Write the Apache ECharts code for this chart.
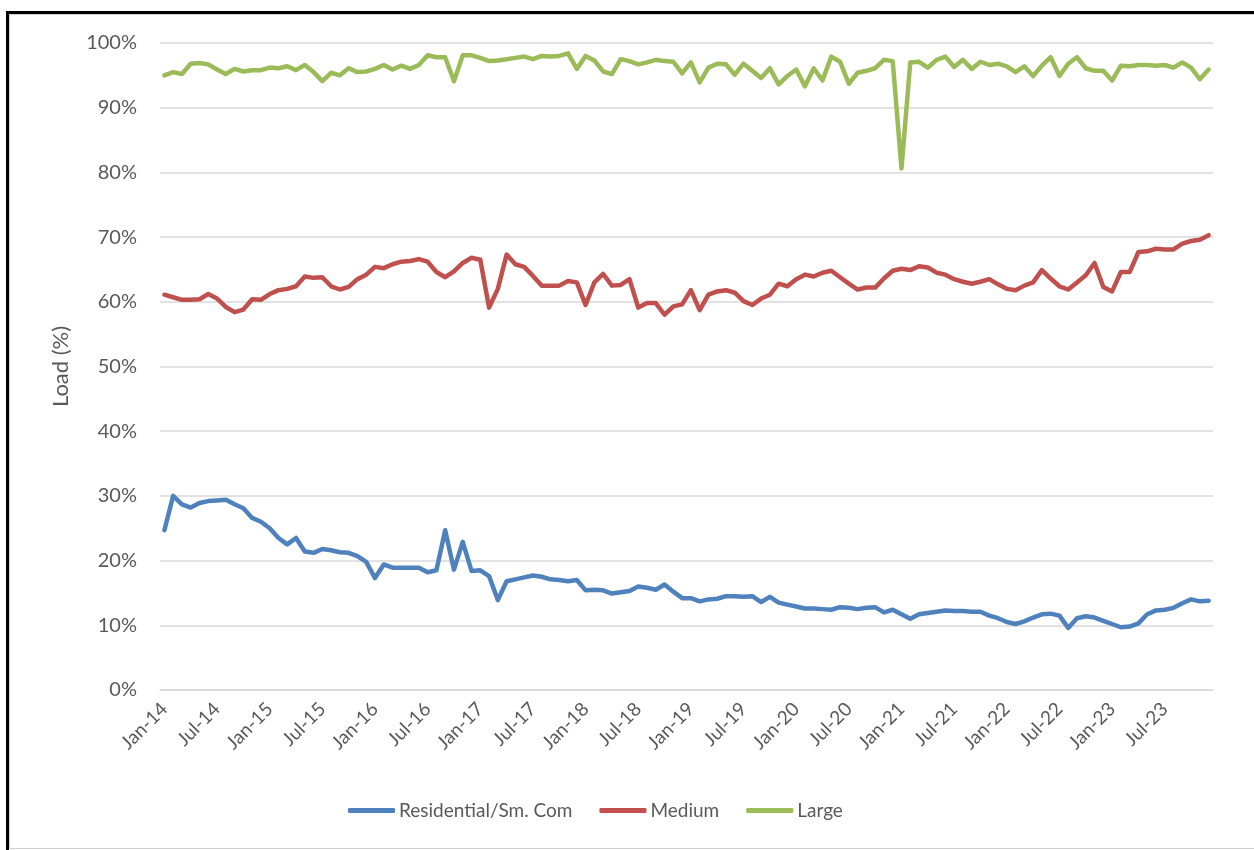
<!DOCTYPE html>
<html>
<head>
<meta charset="utf-8">
<script src="https://cdn.jsdelivr.net/npm/echarts@6/dist/echarts.min.js"></script>
<style>
  html, body { margin: 0; padding: 0; background: #fff; }
  #frame { position: absolute; left: 6px; top: 11px; width: 1260px; height: 845px;
           border-top: 3px solid #000; border-left: 3px solid #000; box-sizing: border-box; }
  #inner { position: absolute; left: 9px; top: 14px; width: 1260px; height: 835px;
           border-top: 1px solid #d0d0d0; border-left: 1px solid #d0d0d0; border-bottom: 1px solid #d0d0d0; box-sizing: border-box; }
  #chart { position: absolute; left: 0; top: 0; width: 1254px; height: 850px; }
</style>
</head>
<body>
<div id="frame"></div>
<div id="inner"></div>
<div id="chart"></div>
<script>
const monthNames = ['Jan','Feb','Mar','Apr','May','Jun','Jul','Aug','Sep','Oct','Nov','Dec'];
const years = ['14','15','16','17','18','19','20','21','22','23'];
const categories = [];
years.forEach(y => monthNames.forEach(m => categories.push(m + '-' + y)));

const seriesNames = ['Residential/Sm. Com', 'Medium', 'Large'];

const residential = [
  24.7, 30.0, 28.7, 28.2, 28.9, 29.2, 29.3, 29.4, 28.7, 28.1, 26.6, 26.0, 25.0, 23.5, 22.5, 23.5, 21.4, 21.2, 21.8, 21.6, 21.3, 21.2, 20.7, 19.8, 17.3, 19.4, 18.9, 18.9, 18.9, 18.9,
  18.2, 18.5, 24.7, 18.6, 22.9, 18.4, 18.5, 17.6, 13.9, 16.8, 17.1, 17.4, 17.7, 17.5, 17.1, 17.0, 16.8, 17.0, 15.4, 15.5, 15.4, 14.9, 15.1, 15.3, 16.0, 15.8, 15.5, 16.3, 15.2, 14.2,
  14.2, 13.7, 14.0, 14.1, 14.5, 14.5, 14.4, 14.5, 13.6, 14.4, 13.5, 13.2, 12.9, 12.6, 12.6, 12.5, 12.4, 12.8, 12.7, 12.5, 12.7, 12.8, 12.0, 12.4, 11.7, 11.0, 11.7, 11.9, 12.1,
  12.3, 12.2, 12.2, 12.1, 12.1, 11.5, 11.1, 10.5, 10.2, 10.6, 11.2, 11.7, 11.8, 11.5, 9.6, 11.1, 11.4, 11.2, 10.7, 10.2, 9.7, 9.8, 10.3, 11.7, 12.3, 12.4, 12.7, 13.4, 14.0, 13.7, 13.8
];

const medium = [
  61.1, 60.7, 60.3, 60.3, 60.4, 61.2, 60.5, 59.2, 58.4, 58.8, 60.4, 60.3, 61.2, 61.8, 62.0, 62.4, 63.9, 63.7, 63.8, 62.4, 61.9, 62.3, 63.5, 64.2, 65.4, 65.2, 65.8, 66.2, 66.3, 66.6,
  66.2, 64.6, 63.8, 64.7, 66.0, 66.8, 66.5, 59.1, 62.0, 67.3, 65.8, 65.4, 64.0, 62.5, 62.5, 62.5, 63.2, 63.0, 59.5, 63.0, 64.3, 62.5, 62.6, 63.5, 59.1, 59.8, 59.8, 58.0, 59.3, 59.6,
  61.8, 58.7, 61.1, 61.6, 61.8, 61.4, 60.1, 59.5, 60.5, 61.1, 62.8, 62.4, 63.5, 64.2, 63.9, 64.5, 64.8, 63.8, 62.8, 61.9, 62.2, 62.2, 63.6, 64.8, 65.1, 64.9, 65.5, 65.3, 64.5,
  64.2, 63.5, 63.1, 62.8, 63.1, 63.5, 62.7, 62.0, 61.8, 62.5, 63.0, 64.9, 63.6, 62.4, 61.9, 63.0, 64.1, 66.0, 62.3, 61.6, 64.6, 64.6, 67.7, 67.8, 68.2, 68.1, 68.1, 69.0, 69.4, 69.6, 70.3
];

const large = [
  95.0, 95.5, 95.2, 96.8, 96.9, 96.7, 95.9, 95.2, 96.0, 95.6, 95.8, 95.8, 96.2, 96.1, 96.4, 95.8, 96.6, 95.5, 94.1, 95.4, 95.0, 96.1, 95.5, 95.6, 96.0, 96.6, 95.9, 96.5, 96.0, 96.6,
  98.1, 97.8, 97.8, 94.1, 98.1, 98.1, 97.7, 97.2, 97.3, 97.5, 97.7, 97.9, 97.5, 98.0, 97.9, 98.0, 98.4, 96.0, 98.0, 97.3, 95.6, 95.2, 97.5, 97.2, 96.7, 97.0, 97.4, 97.2, 97.1, 95.3,
  97.0, 93.9, 96.2, 96.8, 96.7, 95.1, 96.8, 95.7, 94.6, 96.1, 93.6, 94.9, 95.9, 93.3, 96.1, 94.2, 97.9, 97.1, 93.7, 95.4, 95.7, 96.1, 97.4, 97.2, 80.6, 97.0, 97.1, 96.2, 97.4,
  97.9, 96.3, 97.4, 96.0, 97.1, 96.6, 96.8, 96.4, 95.5, 96.4, 94.9, 96.5, 97.8, 94.9, 96.8, 97.8, 96.1, 95.7, 95.7, 94.2, 96.5, 96.4, 96.6, 96.6, 96.5, 96.6, 96.2, 97.0, 96.2, 94.4, 95.9
];

const colors = ['#4F81BD', '#C0504D', '#9BBB59'];
const FONT = 'Lato, "Open Sans", sans-serif';

const chart = echarts.init(document.getElementById('chart'), null, { renderer: 'canvas' });
const dataSets = [residential, medium, large];

chart.setOption({
  animation: false,
  backgroundColor: 'transparent',
  textStyle: { fontFamily: FONT },
  grid: { left: 160, right: 41, top: 43, bottom: 160, containLabel: false },
  legend: {
    bottom: 25,
    left: 343,
    icon: 'roundRect',
    itemWidth: 47,
    itemHeight: 5,
    itemGap: 27,
    textStyle: { fontSize: 19, color: '#595959', fontFamily: FONT, padding: [0, 0, 0, -1] },
    data: seriesNames
  },
  xAxis: {
    type: 'category',
    data: categories,
    boundaryGap: true,
    axisLine: { lineStyle: { color: '#d9d9d9', width: 1.5 } },
    axisTick: { show: false },
    axisLabel: {
      interval: 5,
      rotate: 45,
      fontSize: 19,
      color: '#595959',
      fontFamily: FONT,
      margin: 16
    }
  },
  yAxis: {
    type: 'value',
    min: 0,
    max: 100,
    interval: 10,
    name: 'Load (%)',
    nameLocation: 'middle',
    nameGap: 88,
    nameRotate: 90,
    nameTextStyle: { fontSize: 22, color: '#595959', fontFamily: FONT },
    axisLine: { show: false },
    axisTick: { show: false },
    splitLine: { lineStyle: { color: '#d9d9d9', width: 1.5 } },
    axisLabel: {
      formatter: '{value}%',
      fontSize: 20,
      color: '#595959',
      fontFamily: FONT,
      margin: 23
    }
  },
  series: seriesNames.map((n, i) => ({
    name: n,
    type: 'line',
    data: dataSets[i],
    showSymbol: false,
    symbol: 'none',
    lineStyle: { color: colors[i], width: 4.5, cap: 'round', join: 'round' },
    itemStyle: { color: colors[i] }
  }))
});
</script>
</body>
</html>
